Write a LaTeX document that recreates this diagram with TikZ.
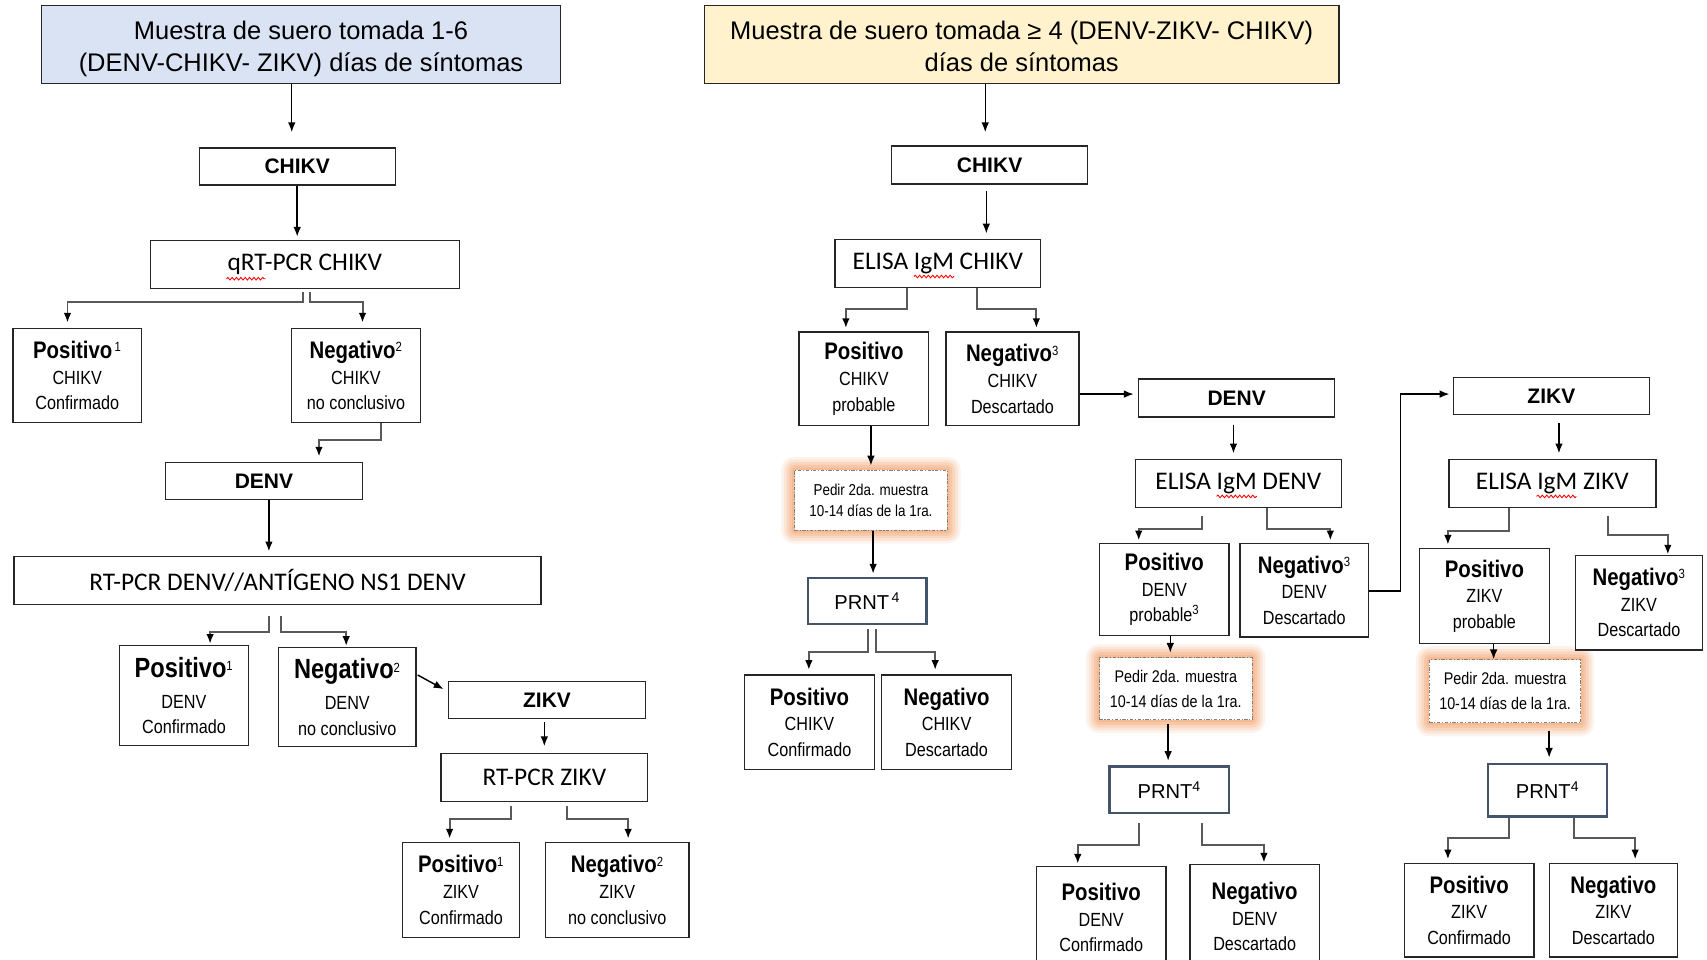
\documentclass[tikz,border=0pt]{standalone}
\usepackage{fontspec}
\setmainfont{Liberation Sans}
\newfontfamily\calfont{Carlito}
\newfontfamily\narfont[FakeStretch=0.85]{Liberation Sans}
\usetikzlibrary{arrows.meta,backgrounds,decorations.pathmorphing}

\definecolor{boxc}{HTML}{262626}
\definecolor{bluef}{HTML}{DAE3F3}
\definecolor{yellowf}{HTML}{FFF2CC}
\definecolor{prntc}{HTML}{44546A}
\definecolor{glowc}{HTML}{F4B183}
\definecolor{connc}{HTML}{595959}

\newcommand\boldhead[2]{{\fontsize{#1}{23.5}\selectfont\bfseries #2}}

\tikzset{
 box/.style={draw=boxc, line width=1.2pt, inner sep=0pt, align=center, fill=white},
 titlebox/.style={box, font=\fontsize{23.4}{30}\selectfont},
 headbox/.style={box, font=\fontsize{19.3}{22}\selectfont\bfseries},
 calbox/.style={box, font=\calfont\fontsize{23.3}{26}\selectfont},
 resbox/.style={box, font=\narfont\fontsize{17.5}{23.5}\selectfont},
 prntbox/.style={box, draw=prntc, line width=2.2pt, font=\fontsize{18.5}{22}\selectfont},
 pedbox/.style={box, draw=gray, line width=0.8pt, dash pattern=on 3pt off 1.5pt on 1pt off 1.5pt, font=\narfont\fontsize{14.5}{19}\selectfont},
 pedboxb/.style={pedbox, font=\narfont\fontsize{15.5}{23}\selectfont},
 arr/.style={-{Latex[length=9pt,width=7pt]}, line width=1.3pt, draw=black},
 elb/.style={-{Latex[length=9pt,width=7pt,color=black]}, line width=1.8pt, draw=connc},
 squig/.style={draw=red, line width=0.8pt, decorate, decoration={snake, amplitude=1.2pt, segment length=4pt}},
}

\begin{document}
\begin{tikzpicture}[x=1pt, y=-1pt]
\useasboundingbox (0,0) rectangle (1568,881);

% ---------------- left column ----------------
\node[titlebox, fill=bluef, minimum width=477, minimum height=72] (t1) at (276.5,41) {\rule{0pt}{25pt}Muestra de suero tomada 1-6\\(DENV-CHIKV- ZIKV) días de síntomas};
\node[headbox, minimum width=180, minimum height=34] (chik1) at (273,153) {CHIKV};
\node[calbox, minimum width=284, minimum height=44] (qrt) at (280,243) {qRT-PCR CHIKV};
\node[resbox, minimum width=118, minimum height=86] (pos1) at (71,345) {\boldhead{22}{Positivo}\textsuperscript{\,1}\\CHIKV\\Confirmado};
\node[resbox, minimum width=118, minimum height=86] (neg1) at (327,345) {\boldhead{22}{Negativo}\textsuperscript{2}\\CHIKV\\no conclusivo};
\node[headbox, minimum width=181, minimum height=34] (denv1) at (242.5,442) {DENV};
\node[calbox, minimum width=484, minimum height=44] (rtd) at (255,533) {RT-PCR DENV//ANTÍGENO NS1 DENV};
\node[resbox, minimum width=118, minimum height=92] (pos2) at (169,639) {\boldhead{25.5}{Positivo}\textsuperscript{1}\\[5pt]DENV\\Confirmado};
\node[resbox, minimum width=126, minimum height=91] (neg2) at (319,640.5) {\boldhead{25.5}{Negativo}\textsuperscript{2}\\[5pt]DENV\\no conclusivo};
\node[headbox, minimum width=181, minimum height=34] (zik1) at (502.5,643) {ZIKV};
\node[calbox, minimum width=190, minimum height=44] (rtz) at (500,714) {RT-PCR ZIKV};
\node[resbox, minimum width=107, minimum height=87] (pos3) at (423.5,817.5) {\boldhead{22}{Positivo}\textsuperscript{1}\\ZIKV\\Confirmado};
\node[resbox, minimum width=132, minimum height=87] (neg3) at (567,817.5) {\boldhead{22}{Negativo}\textsuperscript{2}\\ZIKV\\no conclusivo};

% ---------------- right part ----------------
\node[titlebox, fill=yellowf, minimum width=583, minimum height=72] (t2) at (938.5,41) {\rule{0pt}{20pt}Muestra de suero tomada ≥ 4 (DENV-ZIKV- CHIKV)\\días de síntomas};
\node[headbox, minimum width=180, minimum height=35] (chik2) at (909,151.5) {CHIKV};
\node[calbox, minimum width=189, minimum height=44] (elc) at (861.5,242) {ELISA IgM CHIKV};
\node[resbox, minimum width=119, minimum height=86] (pos4) at (793.5,348) {\boldhead{22}{Positivo}\\CHIKV\\probable};
\node[resbox, minimum width=122, minimum height=86] (neg4) at (930,348) {\boldhead{22}{Negativo}\textsuperscript{3}\\CHIKV\\Descartado};
\node[pedbox, minimum width=140, minimum height=55] (ped1) at (800,459.5) {Pedir 2da. muestra\\10-14 días de la 1ra.};
\node[prntbox, minimum width=109, minimum height=42] (prnt1) at (796.5,552) {PRNT\textsuperscript{\,4}};
\node[resbox, minimum width=119, minimum height=87] (pos5) at (743.5,663.5) {\boldhead{22}{Positivo}\\CHIKV\\Confirmado};
\node[resbox, minimum width=119, minimum height=87] (neg5) at (869.5,663.5) {\boldhead{22}{Negativo}\\CHIKV\\Descartado};

\node[headbox, minimum width=180, minimum height=35] (denv2) at (1136,365.5) {DENV};
\node[calbox, minimum width=189, minimum height=44] (eld) at (1137.5,444) {ELISA IgM DENV};
\node[resbox, minimum width=119, minimum height=85] (pos6) at (1069.5,541.5) {\boldhead{22}{Positivo}\\DENV\\probable\textsuperscript{3}};
\node[resbox, minimum width=118, minimum height=86] (neg6) at (1198,542) {\boldhead{22}{Negativo}\textsuperscript{3}\\DENV\\Descartado};
\node[pedboxb, minimum width=140, minimum height=57] (ped2) at (1080,632.5) {Pedir 2da. muestra\\10-14 días de la 1ra.};
\node[prntbox, minimum width=110, minimum height=43] (prnt2) at (1074,725.5) {PRNT\textsuperscript{4}};
\node[resbox, minimum width=119, minimum height=94] (pos7) at (1011.5,843) {\boldhead{22}{Positivo}\\DENV\\Confirmado};
\node[resbox, minimum width=119, minimum height=96] (neg7) at (1152.5,842) {\boldhead{22}{Negativo}\\DENV\\Descartado};

\node[headbox, minimum width=180, minimum height=34] (zik2) at (1425,364) {ZIKV};
\node[calbox, minimum width=190, minimum height=44] (elz) at (1426,444) {ELISA IgM ZIKV};
\node[resbox, minimum width=119, minimum height=87] (pos8) at (1363.5,547.5) {\boldhead{22}{Positivo}\\ZIKV\\probable};
\node[resbox, minimum width=117, minimum height=87] (neg8) at (1505.5,553.5) {\boldhead{22}{Negativo}\textsuperscript{3}\\ZIKV\\Descartado};
\node[pedboxb, minimum width=139, minimum height=58] (ped3) at (1382.5,635) {Pedir 2da. muestra\\10-14 días de la 1ra.};
\node[prntbox, minimum width=109, minimum height=48] (prnt3) at (1421.5,726) {PRNT\textsuperscript{4}};
\node[resbox, minimum width=119, minimum height=86] (pos9) at (1349.5,836) {\boldhead{22}{Positivo}\\ZIKV\\Confirmado};
\node[resbox, minimum width=118, minimum height=86] (neg9) at (1482,836) {\boldhead{22}{Negativo}\\ZIKV\\Descartado};

% ---------------- background: white + glow ----------------
\begin{scope}[on background layer]
\fill[white] (0,0) rectangle (1568,881);
\foreach \n in {ped1,ped2,ped3}{
  \foreach \g/\o in {12/0.14,9.5/0.2,7/0.28,4.5/0.38,2/0.5}{
    \fill[glowc, opacity=\o, rounded corners=\g pt] ([shift={(-\g,-\g)}]\n.north west) rectangle ([shift={(\g,\g)}]\n.south east);
  }
}
\end{scope}

% ---------------- spell-check squiggles ----------------
\draw[squig] ([shift={(-72,13)}]qrt.center) -- ([shift={(-36,13)}]qrt.center);
\draw[squig] ([shift={(-22,12)}]elc.center) -- ([shift={(15,12)}]elc.center);
\draw[squig] ([shift={(-20,12)}]eld.center) -- ([shift={(17,12)}]eld.center);
\draw[squig] ([shift={(-14.5,12)}]elz.center) -- ([shift={(22,12)}]elz.center);

% ---------------- connectors, left ----------------
\draw[arr] ([shift={(-8.5,0)}]t1.south) -- ([shift={(-5,-14)}]chik1.north);
\draw[arr] (chik1.south) -- ([shift={(-7,-3)}]qrt.north);
\draw[elb] ([shift={(-2,3)}]qrt.south) -- ++(0,9) -| ([shift={(-9,-5)}]pos1.north);
\draw[elb] ([shift={(5,3)}]qrt.south) -- ++(0,9) -| ([shift={(6,-5)}]neg1.north);
\draw[elb] ([shift={(23,0)}]neg1.south) -- ++(0,16) -| ([shift={(50.5,-5)}]denv1.north);
\draw[arr] ([shift={(4.5,0)}]denv1.south) -- ([shift={(-8,-4)}]rtd.north);
\draw[elb] ([shift={(-8,10)}]rtd.south) -- ++(0,15) -| ([shift={(24,-1)}]pos2.north);
\draw[elb] ([shift={(3,10)}]rtd.south) -- ++(0,15) -| ([shift={(-1,-1)}]neg2.north);
\draw[arr] ([shift={(1,-20.5)}]neg2.east) -- ([shift={(-4,-10)}]zik1.west);
\draw[arr] ([shift={(-2.5,3)}]zik1.south) -- ([shift={(0,-6)}]rtz.north);
\draw[elb] ([shift={(-31,4)}]rtz.south) -- ++(0,12) -| ([shift={(-10.5,-3)}]pos3.north);
\draw[elb] ([shift={(21,4)}]rtz.south) -- ++(0,12) -| ([shift={(10,-3)}]neg3.north);

% ---------------- connectors, right ----------------
\draw[arr] ([shift={(-33.5,0)}]t2.south) -- ([shift={(-4,-12)}]chik2.north);
\draw[arr] ([shift={(-3,6)}]chik2.south) -- ([shift={(44.5,-5)}]elc.north);
\draw[elb] ([shift={(-28.5,0)}]elc.south) -- ++(0,19) -| ([shift={(-16.5,-3)}]pos4.north);
\draw[elb] ([shift={(35.5,0)}]elc.south) -- ++(0,19) -| ([shift={(22,-3)}]neg4.north);
\draw[arr] ([shift={(0,14)}]neg4.east) -- ([shift={(-4,-3.5)}]denv2.west);
\draw[arr] ([shift={(6.5,0)}]pos4.south) -- ([shift={(0,-4)}]ped1.north);
\draw[arr] ([shift={(2,0)}]ped1.south) -- ([shift={(5.5,-3)}]prnt1.north);
\draw[elb] ([shift={(0.5,4)}]prnt1.south) -- ++(0,21) -| ([shift={(-0.5,-4)}]pos5.north);
\draw[elb] ([shift={(8.5,4)}]prnt1.south) -- ++(0,21) -| ([shift={(-10.5,-4)}]neg5.north);

\draw[arr] ([shift={(-3,7)}]denv2.south) -- ([shift={(-4.5,-5)}]eld.north);
\draw[elb] ([shift={(-33.5,7)}]eld.south) -- ++(0,12) -| ([shift={(-23.5,-2)}]pos6.north);
\draw[elb] ([shift={(26.5,0)}]eld.south) -- ++(0,19) -| ([shift={(24,-2)}]neg6.north);
\draw[arr] ([shift={(0,1)}]neg6.east) -- ++(29,0) |- ([shift={(-3,-2)}]zik2.west);
\draw[arr] ([shift={(5.5,0)}]pos6.south) -- ([shift={(-5,-4)}]ped2.north);
\draw[arr] ([shift={(-7,4)}]ped2.south) -- ([shift={(-1,-4)}]prnt2.north);
\draw[elb] ([shift={(-28,8)}]prnt2.south) -- ++(0,20) -| ([shift={(-21.5,-2)}]pos7.north);
\draw[elb] ([shift={(30,8)}]prnt2.south) -- ++(0,20) -| ([shift={(8.5,-1)}]neg7.north);

\draw[arr] ([shift={(7,7)}]zik2.south) -- ([shift={(6,-5)}]elz.north);
\draw[elb] ([shift={(-40,0)}]elz.south) -- ++(0,21) -| ([shift={(-33.5,-3)}]pos8.north);
\draw[elb] ([shift={(51,7)}]elz.south) -- ++(0,18) -| ([shift={(26.5,0)}]neg8.north);
\draw[arr] ([shift={(8.5,0)}]pos8.south) -- ([shift={(-10.5,0)}]ped3.north);
\draw[arr] ([shift={(40.5,7)}]ped3.south) -- ([shift={(1.5,-5)}]prnt3.north);
\draw[elb] ([shift={(-35.5,0)}]prnt3.south) -- ++(0,19) -| ([shift={(-19.5,-3)}]pos9.north);
\draw[elb] ([shift={(24.5,0)}]prnt3.south) -- ++(0,19) -| ([shift={(20,-3)}]neg9.north);
\end{tikzpicture}
\end{document}
